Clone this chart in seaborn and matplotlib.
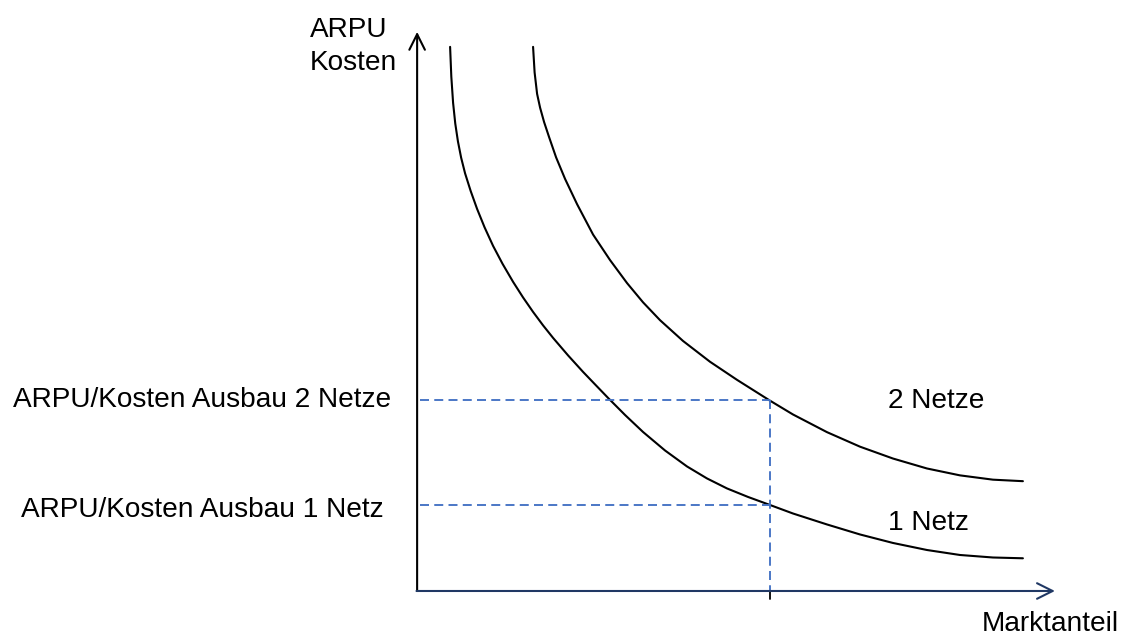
import pandas as pd
import matplotlib.pyplot as plt
import seaborn as sns

# Werte (Marktanteil 0..100, ARPU/Kosten 0..100)
netz1_x = [5.17, 5.36, 5.64, 5.98, 6.40, 6.90, 7.52, 8.39, 9.40, 10.58, 11.91, 13.40, 15.05,
           16.61, 18.18, 19.75, 21.32, 23.67, 26.02, 27.98, 29.94, 32.60, 35.42, 38.87, 42.32,
           45.45, 48.59, 51.88, 55.33, 58.93, 64.26, 69.44, 74.61, 79.94, 85.11, 90.28, 94.98]
netz1_y = [97.32, 92.00, 87.30, 83.60, 80.40, 77.50, 74.69, 71.56, 68.34, 65.03, 61.72, 58.50,
           55.28, 52.50, 49.91, 47.50, 45.26, 42.13, 39.18, 36.85, 34.53, 31.48, 28.44, 25.13,
           22.27, 20.13, 18.34, 16.82, 15.38, 13.86, 11.90, 10.11, 8.59, 7.33, 6.44, 5.99, 5.85]
netz2_x = [18.18, 18.42, 18.81, 19.28, 19.91, 20.69, 21.79, 23.20, 25.08, 27.59, 30.25, 32.92,
           35.42, 38.09, 41.69, 45.92, 50.16, 55.33, 58.93, 64.26, 69.44, 74.61, 79.94, 85.11,
           90.28, 94.98]
netz2_y = [97.32, 92.75, 88.91, 86.44, 83.86, 81.18, 77.55, 73.69, 69.18, 63.74, 59.18, 55.06,
           51.63, 48.43, 44.72, 41.00, 37.76, 34.04, 31.57, 28.41, 25.81, 23.69, 21.91, 20.68,
           19.91, 19.64]

markt_x = 55.33              # betrachteter Marktanteil
niveau = {'2 Netze': 34.1, '1 Netz': 15.4}
links_labels = ['ARPU/Kosten Ausbau 2 Netze', 'ARPU/Kosten Ausbau 1 Netz']
links_y = [32.9, 13.2]

df = pd.concat([
    pd.DataFrame({'Marktanteil': netz1_x, 'Wert': netz1_y, 'Netz': '1 Netz'}),
    pd.DataFrame({'Marktanteil': netz2_x, 'Wert': netz2_y, 'Netz': '2 Netze'}),
])

sns.set_style('white')
plt.rcParams['font.family'] = ['Liberation Sans', 'DejaVu Sans']
plt.rcParams['text.color'] = 'black'

fig = plt.figure(figsize=(11.27, 6.36), dpi=100)
ax = fig.add_axes([0, 0, 1, 1])
ax.set_xlim(-65.4, 111.3)
ax.set_ylim(-8.05, 105.7)
ax.axis('off')

sns.lineplot(data=df, x='Marktanteil', y='Wert', units='Netz', estimator=None, sort=False,
             color='black', lw=1.5, ax=ax)

blau = '#4472c4'
dash = (0, (4.8, 2.8))
for v in niveau.values():
    ax.plot([0.5, markt_x], [v, v], color=blau, lw=1.35, ls=dash)
ax.plot([markt_x, markt_x], [max(niveau.values()), 0], color=blau, lw=1.35, ls=dash)
ax.plot([markt_x, markt_x], [0, -1.4], color='black', lw=1.3)

# Achsen mit Pfeilen
ax.annotate('', xy=(0, 100), xytext=(0, 0),
            arrowprops=dict(arrowstyle='->', color='black', lw=1.5, mutation_scale=28,
                            shrinkA=0, shrinkB=0))
ax.annotate('', xy=(100, 0), xytext=(-0.1, 0),
            arrowprops=dict(arrowstyle='->', color='#203864', lw=1.5, mutation_scale=28,
                            shrinkA=0, shrinkB=0))

fs = 20.2
ax.text(-16.8, 99.1, 'ARPU', fontsize=fs, ha='left', va='baseline')
ax.text(-16.8, 93.2, 'Kosten', fontsize=fs, ha='left', va='baseline')
for lab, y in zip(links_labels, links_y):
    ax.text(-33.7, y, lab, fontsize=fs, ha='center', va='baseline')
ax.text(73.9, 32.7, '2 Netze', fontsize=fs, ha='left', va='baseline')
ax.text(73.8, 10.9, '1 Netz', fontsize=fs, ha='left', va='baseline')
ax.text(88.5, -7.1, 'Marktanteil', fontsize=fs, ha='left', va='baseline')

fig.savefig('out.png', dpi=100)
